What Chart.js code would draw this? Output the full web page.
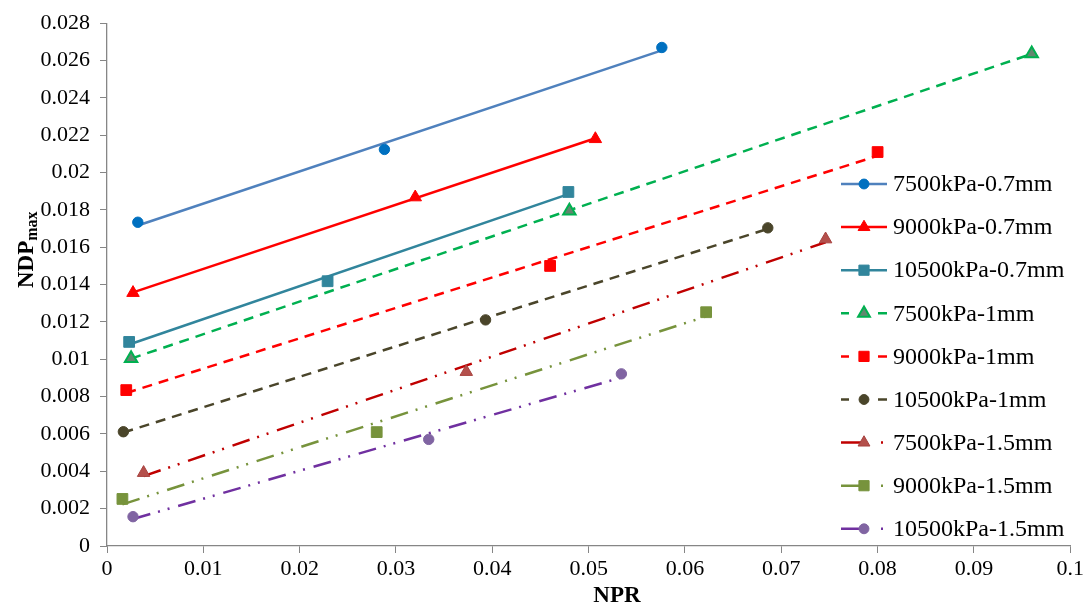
<!DOCTYPE html>
<html><head><meta charset="utf-8">
<script src="https://cdn.jsdelivr.net/npm/chart.js@4"></script>
<style>html,body{margin:0;padding:0;background:#fff}#wrap{width:1087px;height:604px;position:relative}</style>
</head><body><div id="wrap"><canvas id="c" width="1087" height="604"></canvas></div>
<script>
// ---- data ----
const seriesNames = ['7500kPa-0.7mm','9000kPa-0.7mm','10500kPa-0.7mm','7500kPa-1mm','9000kPa-1mm','10500kPa-1mm','7500kPa-1.5mm','9000kPa-1.5mm','10500kPa-1.5mm'];
const npr1 = [0.0032, 0.0288, 0.0576];   const ndp1 = [0.01734, 0.02124, 0.02670];
const npr2 = [0.0027, 0.0320, 0.0507];   const ndp2 = [0.01356, 0.01868, 0.02180];
const npr3 = [0.0023, 0.0229, 0.0479];   const ndp3 = [0.01093, 0.01418, 0.01896];
const npr4 = [0.0025, 0.0480, 0.0960];   const ndp4 = [0.01005, 0.01795, 0.02637];
const npr5 = [0.0020, 0.0460, 0.0800];   const ndp5 = [0.00835, 0.01500, 0.02110];
const npr6 = [0.0017, 0.0393, 0.0686];   const ndp6 = [0.00612, 0.01211, 0.01704];
const npr7 = [0.0038, 0.0373, 0.0746];   const ndp7 = [0.00392, 0.00933, 0.01643];
const npr8 = [0.0016, 0.0280, 0.0622];   const ndp8 = [0.00252, 0.00610, 0.01252];
const npr9 = [0.0027, 0.0334, 0.0534];   const ndp9 = [0.00157, 0.00571, 0.00922];
const xTickLabels = ['0','0.01','0.02','0.03','0.04','0.05','0.06','0.07','0.08','0.09','0.1'];
const yTickLabels = ['0','0.002','0.004','0.006','0.008','0.01','0.012','0.014','0.016','0.018','0.02','0.022','0.024','0.026','0.028'];
const xTitle = 'NPR';
const yTitleMain = 'NDP';
const yTitleSub = 'max';

// ---- styles ----
const nprAll = [npr1,npr2,npr3,npr4,npr5,npr6,npr7,npr8,npr9];
const ndpAll = [ndp1,ndp2,ndp3,ndp4,ndp5,ndp6,ndp7,ndp8,ndp9];
const markerShape = ['circle','triangle','rect','triangle','rect','circle','triangle','rect','circle'];
const markerFill  = ['#0070C0','#FF0000','#31859C','#62876F','#FF0000','#4A452A','#B4504C','#77933C','#8064A2'];
const markerEdge  = ['#0070C0','#FF0000','#31859C','#00B050','#FF0000','#4A452A','#A8423F','#77933C','#8064A2'];
const lineColor   = ['#4F81BD','#FF0000','#31859C','#00B050','#FF0000','#4A452A','#C00000','#77933C','#7030A0'];
const DASH = [10,7];
const DDOT = [18,8,2,8,2,9];
const lineDash    = [[],[],[],DASH,DASH,DASH,DDOT,DDOT,DDOT];
const markerRadius = {circle:5.2, triangle:7.2, rect:7.6};

function fit(xs, ys){
  const n = xs.length;
  const mx = xs.reduce((a,b)=>a+b,0)/n, my = ys.reduce((a,b)=>a+b,0)/n;
  let sxy=0, sxx=0;
  for(let i=0;i<n;i++){sxy+=(xs[i]-mx)*(ys[i]-my); sxx+=(xs[i]-mx)*(xs[i]-mx);}
  const b = sxy/sxx, a = my-b*mx;
  const x0 = Math.min(...xs), x1 = Math.max(...xs);
  return [{x:x0,y:a+b*x0},{x:x1,y:a+b*x1}];
}

const datasets = [];
for(let i=0;i<9;i++){
  datasets.push({
    label: seriesNames[i]+' trend',
    data: fit(nprAll[i], ndpAll[i]),
    showLine:true, borderColor: lineColor[i], borderWidth: 2.5,
    borderDash: lineDash[i], borderCapStyle:'butt',
    pointRadius:0, pointHoverRadius:0, order: 2
  });
}
for(let i=0;i<9;i++){
  datasets.push({
    label: seriesNames[i],
    data: nprAll[i].map((x,j)=>({x:x, y:ndpAll[i][j]})),
    showLine:false, pointStyle: markerShape[i], pointRadius: markerRadius[markerShape[i]],
    pointBackgroundColor: markerFill[i], pointBorderColor: markerEdge[i],
    pointBorderWidth: i===3 ? 2 : 1, order: 1
  });
}

function drawMarker(ctx, shape, x, y, r, fill, edge, bw){
  ctx.save();
  ctx.fillStyle = fill; ctx.strokeStyle = edge; ctx.lineWidth = bw; ctx.setLineDash([]);
  ctx.beginPath();
  if(shape==='circle'){ ctx.arc(x,y,r,0,Math.PI*2); }
  else if(shape==='rect'){ const s=r*Math.SQRT1_2; ctx.rect(x-s,y-s,2*s,2*s); }
  else {
    for(let k=0;k<3;k++){ const a = k*2*Math.PI/3; const px = x+Math.sin(a)*r, py = y-Math.cos(a)*r; k?ctx.lineTo(px,py):ctx.moveTo(px,py);} ctx.closePath();
  }
  ctx.fill(); ctx.stroke(); ctx.restore();
}

const decor = {
  id:'decor',
  beforeDraw(chart){
    const ctx = chart.ctx; ctx.save(); ctx.fillStyle='#fff'; ctx.fillRect(0,0,chart.width,chart.height); ctx.restore();
  },
  afterDraw(chart){
    const ctx = chart.ctx;
    ctx.save();
    ctx.fillStyle = '#000';
    ctx.font = 'bold 23px "Liberation Serif"';
    ctx.textAlign = 'center'; ctx.textBaseline = 'alphabetic';
    ctx.fillText(xTitle, 617, 602);
    ctx.save();
    ctx.translate(33, 288); ctx.rotate(-Math.PI/2);
    ctx.textAlign = 'left';
    ctx.font = 'bold 23px "Liberation Serif"';
    ctx.fillText(yTitleMain, 0, 0);
    const w = ctx.measureText(yTitleMain).width;
    ctx.font = 'bold 16px "Liberation Serif"';
    ctx.fillText(yTitleSub, w, 3.5);
    ctx.restore();
    const x0 = 841, x1 = 887, xm = 864, tx = 893, y0 = 184, dy = 43.1;
    ctx.font = '24px "Liberation Serif"';
    ctx.textAlign = 'left'; ctx.textBaseline = 'middle';
    for(let i=0;i<9;i++){
      const y = y0 + i*dy;
      ctx.save();
      ctx.strokeStyle = lineColor[i]; ctx.lineWidth = 2.5; ctx.lineCap='butt';
      ctx.beginPath();
      if(i<3){ ctx.moveTo(x0,y); ctx.lineTo(x1,y); }
      else if(i<6){ ctx.moveTo(x0,y); ctx.lineTo(x0+8,y); ctx.moveTo(x1-9,y); ctx.lineTo(x1,y); }
      else { ctx.moveTo(x0,y); ctx.lineTo(xm,y); ctx.moveTo(x1-6,y); ctx.lineTo(x1-4,y); }
      ctx.stroke(); ctx.restore();
      const sh = markerShape[i];
      drawMarker(ctx, sh, xm, y, markerRadius[sh]*0.95, markerFill[i], markerEdge[i], i===3?2:1);
      ctx.fillStyle = '#000';
      ctx.fillText(seriesNames[i], tx, y+1);
    }
    ctx.restore();
  }
};

const axisColor = '#868686';
const tickFont = {family:'"Liberation Serif"', size:22};
new Chart(document.getElementById('c'), {
  type:'scatter',
  data:{datasets},
  options:{
    responsive:false, animation:false, devicePixelRatio:1,
    layout:{padding:{top:23,right:14,left:0,bottom:0}},
    plugins:{legend:{display:false}, tooltip:{enabled:false}},
    events:[],
    scales:{
      x:{type:'linear', min:0, max:0.1,
        ticks:{stepSize:0.01, color:'#000', font:tickFont, padding:3, maxRotation:0, autoSkip:false,
          callback:(v,i)=>xTickLabels[i]},
        grid:{drawOnChartArea:false, drawTicks:true, tickLength:7, color:axisColor},
        border:{color:axisColor, width:1.3},
        afterFit:(s)=>{s.height=58;}
      },
      y:{type:'linear', min:0, max:0.028,
        ticks:{stepSize:0.002, color:'#000', font:tickFont, padding:10, autoSkip:false,
          callback:(v,i)=>yTickLabels[i]},
        grid:{drawOnChartArea:false, drawTicks:true, tickLength:7, color:axisColor},
        border:{color:axisColor, width:1.3},
        afterFit:(s)=>{s.width=107;}
      }
    }
  },
  plugins:[decor]
});
</script></body></html>
